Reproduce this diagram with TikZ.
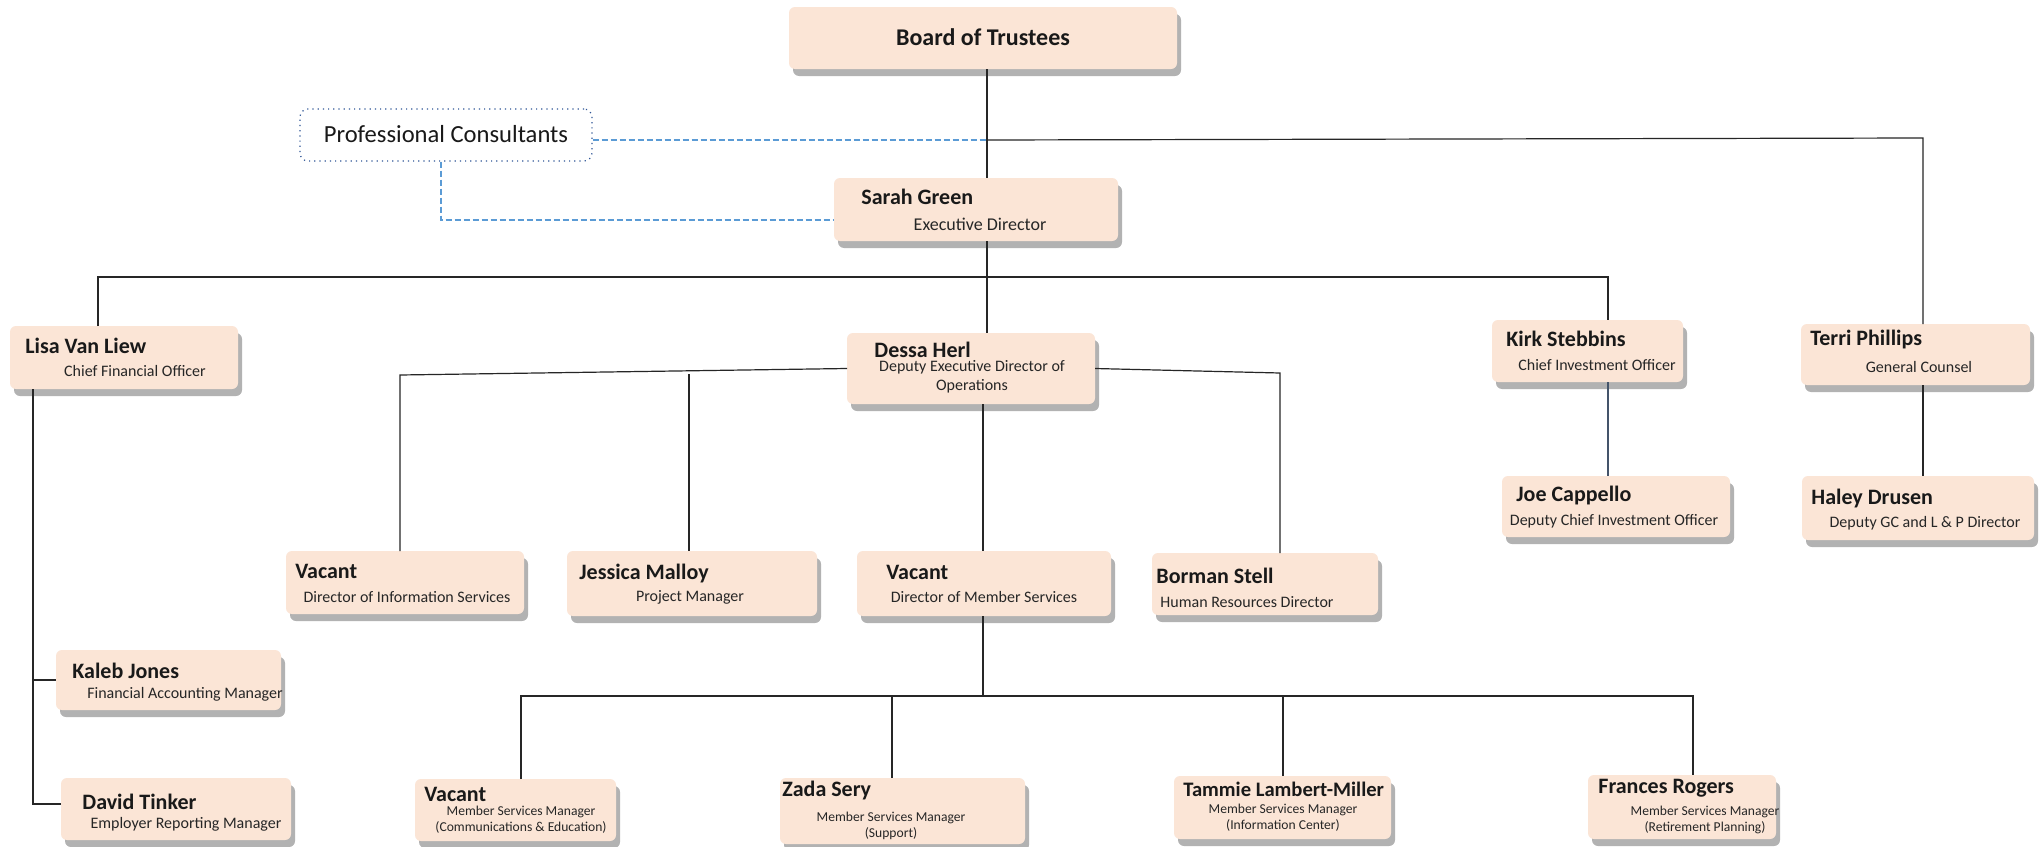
\documentclass[tikz,border=0pt]{standalone}
\usepackage{fontspec}
\setmainfont{Carlito}
\usetikzlibrary{shadows,fit}
\definecolor{peach}{HTML}{FBE5D6}
\definecolor{dashblue}{HTML}{5B9BD5}
\definecolor{dotblue}{HTML}{2F5597}
\definecolor{slateline}{HTML}{44546A}
\begin{document}
\begin{tikzpicture}[x=0.5pt,y=-0.5pt,
  box/.style={fill=peach, draw=none, rounded corners=3pt, inner sep=0pt, outer sep=0pt,
    drop shadow={shadow xshift=2pt, shadow yshift=-3.5pt, opacity=0.3, fill=black}},
  nm/.style={font=\bfseries\fontsize{11}{13}\selectfont, anchor=west, inner sep=0pt, text=black!90},
  tt/.style={font=\fontsize{8}{9.6}\selectfont, inner sep=0pt, align=center, text=black!85},
  ts/.style={font=\fontsize{6.8}{8.2}\selectfont, inner sep=0pt, align=center, text=black!85},
  conn/.style={draw=black!85, line width=0.6pt},
  dsh/.style={draw=dashblue, dashed, dash pattern=on 3pt off 1.5pt, line width=0.6pt}]
\useasboundingbox (0,0) rectangle (2039,846);
\fill[white] (0,0) rectangle (2039,846);

% boxes
\node[box, fit={(789,7) (1177,69)}] (board) {};
\node[draw=dotblue, dotted, line width=0.6pt, rounded corners=4pt, fill=white, inner sep=0pt, fit={(300,109) (592,161)}] (pc) {};
\node[box, fit={(834,178) (1118,241)}] (sarah) {};
\node[box, fit={(10,326) (238,389)}] (lisa) {};
\node[box, fit={(847,333) (1095,404)}] (dessa) {};
\node[box, fit={(1492,320) (1683,382)}] (kirk) {};
\node[box, fit={(1801,324) (2030,385)}] (terri) {};
\node[box, fit={(1502,476) (1730,537)}] (joe) {};
\node[box, fit={(1802,476) (2034,540)}] (haley) {};
\node[box, fit={(286,551) (524,614)}] (vis) {};
\node[box, fit={(567,551) (817,616)}] (jess) {};
\node[box, fit={(857,551) (1111,616)}] (vms) {};
\node[box, fit={(1152,553) (1378,615)}] (borman) {};
\node[box, fit={(56,650) (281,710)}] (kaleb) {};
\node[box, fit={(61,778) (291,840)}] (david) {};
\node[box, fit={(415,779) (616,841)}] (vce) {};
\node[box, fit={(780,778) (1025,844)}] (zada) {};
\node[box, fit={(1174,776) (1391,839)}] (tammie) {};
\node[box, fit={(1588,775) (1776,839)}] (frances) {};

% texts
\node[font=\bfseries\fontsize{12}{14}\selectfont, inner sep=0pt, text=black!90] (board-n) at (983,37) {Board of Trustees};
\node[font=\fontsize{12.3}{14}\selectfont, inner sep=0pt, text=black!90] (pc-n) at (446,134) {Professional Consultants};
\node[nm] (sarah-n) at (861,197) {Sarah Green};
\node[font=\fontsize{9}{11}\selectfont, inner sep=0pt, text=black!85] (sarah-t) at (980,224) {Executive Director};
\node[nm] (lisa-n) at (25,346) {Lisa Van Liew};
\node[tt] (lisa-t) at (135,371) {Chief Financial Officer};
\node[nm] (dessa-n) at (874,350) {Dessa Herl};
\node[tt] (dessa-t) at (972,377) {Deputy Executive Director of\\Operations};
\node[nm] (kirk-n) at (1506,339) {Kirk Stebbins};
\node[tt] (kirk-t) at (1597,365) {Chief Investment Officer};
\node[nm] (terri-n) at (1810,340) {Terri Phillips};
\node[tt] (terri-t) at (1919,367) {General Counsel};
\node[nm] (joe-n) at (1516,496) {Joe Cappello};
\node[tt] (joe-t) at (1614,521) {Deputy Chief Investment Officer};
\node[nm] (haley-n) at (1811,499) {Haley Drusen};
\node[tt] (haley-t) at (1925,523) {Deputy GC and L \& P Director};
\node[nm] (vis-n) at (295,571) {Vacant};
\node[tt] (vis-t) at (407,597) {Director of Information Services};
\node[nm] (jess-n) at (579,574) {Jessica Malloy};
\node[tt] (jess-t) at (690,597) {Project Manager};
\node[nm] (vms-n) at (886,572) {Vacant};
\node[tt] (vms-t) at (984,597) {Director of Member Services};
\node[nm] (borman-n) at (1156,576) {Borman Stell};
\node[tt] (borman-t) at (1247,602) {Human Resources Director};
\node[nm] (kaleb-n) at (72,671) {Kaleb Jones};
\node[tt] (kaleb-t) at (185,694) {Financial Accounting Manager};
\node[nm] (david-n) at (82,802) {David Tinker};
\node[tt] (david-t) at (186,824) {Employer Reporting Manager};
\node[nm] (vce-n) at (424,794) {Vacant};
\node[ts] (vce-t) at (521,820) {Member Services Manager\\(Communications \& Education)};
\node[nm] (zada-n) at (782,790) {Zada Sery};
\node[ts] (zada-t) at (891,826) {Member Services Manager\\(Support)};
\node[nm, font=\bfseries\fontsize{10.3}{12}\selectfont] (tammie-n) at (1183,789) {Tammie Lambert-Miller};
\node[ts] (tammie-t) at (1283,818) {Member Services Manager\\(Information Center)};
\node[nm] (frances-n) at (1598,788) {Frances Rogers};
\node[ts] (frances-t) at (1705,820) {Member Services Manager\\(Retirement Planning)};

% junction coordinates
\coordinate (jt) at (987,140);
\coordinate (tr) at (1923,138);
\coordinate (lt) at (98,277);
\coordinate (kt) at (1608,277);
\coordinate (dl) at (400,375);
\coordinate (jd) at (689,374);
\coordinate (dr) at (1280,373);
\coordinate (mx) at (983,696);
\coordinate (m1) at (521,696);
\coordinate (m2) at (892,696);
\coordinate (m3) at (1283,696);
\coordinate (m4) at (1693,696);
\coordinate (lv) at (33,804);
\coordinate (pcx) at (441,220);

% connectors
\draw[dsh] (pc.east |- jt) -- (jt);
\draw[dsh] (pcx |- pc.south) -- (pcx) -- (pcx -| sarah.west);
\draw[conn] (board.south -| jt) -- (sarah.north -| jt);
\draw[conn] (jt) -- (tr) -- (tr |- terri.north);
\draw[conn] (sarah.south -| jt) -- (dessa.north -| jt);
\draw[conn] (lt |- lisa.north) -- (lt) -- (kt) -- (kt |- kirk.north);
\draw[draw=slateline, line width=0.6pt] (kirk.south -| kt) -- (joe.north -| kt);
\draw[conn] (terri.south -| tr) -- (haley.north -| tr);
\draw[conn] (dessa.west) -- (dl) -- (dl |- vis.north);
\draw[conn] (jd) -- (jd |- jess.north);
\draw[conn] (dessa.east) -- (dr) -- (dr |- borman.north);
\draw[conn] (dessa.south -| mx) -- (vms.north -| mx);
\draw[conn] (vms.south -| mx) -- (mx);
\draw[conn] (m1 |- vce.north) -- (m1) -- (m4) -- (m4 |- frances.north);
\draw[conn] (m2) -- (m2 |- zada.north);
\draw[conn] (m3) -- (m3 |- tammie.north);
\draw[conn] (lisa.south -| lv) -- (lv) -- (lv -| david.west);
\draw[conn] (kaleb.west -| lv) -- (kaleb.west);
\end{tikzpicture}
\end{document}
